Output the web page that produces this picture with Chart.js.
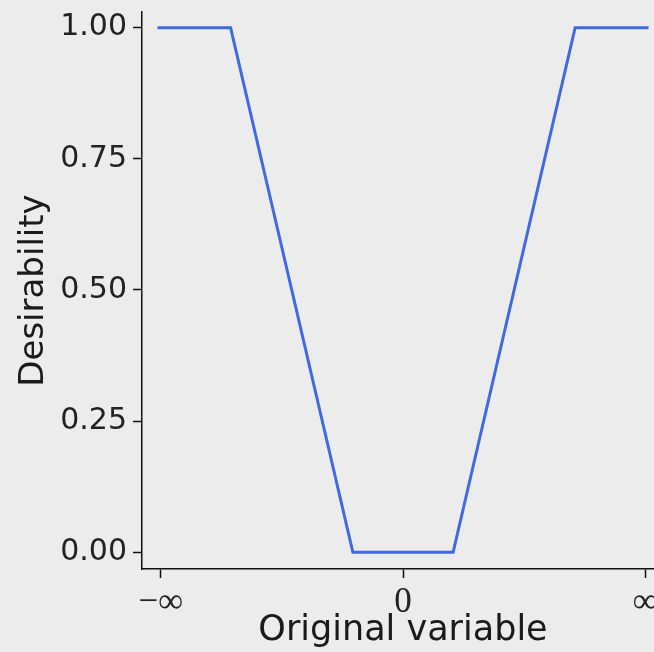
<!DOCTYPE html>
<html lang="en">
  <head>
    <script src="https://cdn.jsdelivr.net/npm/chart.js"></script>
    <style>
      body { margin: 0; background: #ececec; }
      #wrap { width: 654px; height: 652px; overflow: hidden; }
    </style>
  </head>
  <body>
    <div id="wrap"><canvas id="chart" width="680" height="652"></canvas></div>
    <script type="text/javascript">
      // desirability curve, x is on a symbolic -inf..inf axis
      const xValues = [-1.014, -0.712, -0.207, 0.207, 0.711, 1.014];
      const yValues = [1.0, 1.0, 0.0, 0.0, 1.0, 1.0];
      const xTickValues = [-1, 0, 1];
      const xTickLabels = ['\u2212\u221e', '0', '\u221e'];
      const yTickValues = [0, 0.25, 0.5, 0.75, 1.0];

      const points = xValues.map((x, i) => ({ x: x, y: yValues[i] }));

      new Chart(document.getElementById('chart'), {
        type: 'line',
        data: {
          datasets: [
            {
              data: points,
              borderColor: '#4169e1',
              borderWidth: 3,
              pointRadius: 0,
              tension: 0,
            },
          ],
        },
        options: {
          responsive: false,
          animation: false,
          layout: { padding: { top: 12, right: 16, left: 0, bottom: 0 } },
          plugins: { legend: { display: false }, tooltip: { enabled: false } },
          scales: {
            x: {
              type: 'linear',
              min: -1.078,
              max: 1.078,
              afterFit: (s) => {
                s.height = 83;
                s.paddingLeft = 0;
                s.paddingRight = 0;
              },
              afterBuildTicks: (s) => { s.ticks = xTickValues.map((v) => ({ value: v })); },
              border: { display: true, color: '#111', width: 1.5 },
              grid: { drawOnChartArea: false, tickLength: 9, color: '#111', tickWidth: 1.5 },
              ticks: {
                color: '#222',
                padding: 4,
                maxRotation: 0,
                font: { family: 'Liberation Serif', size: 35 },
                callback: (v) => xTickLabels[xTickValues.indexOf(v)],
              },
              title: {
                display: true,
                text: 'Original variable',
                color: '#1a1a1a',
                font: { family: 'DejaVu Sans', size: 35 },
                padding: { top: 0, bottom: 0 },
              },
            },
            y: {
              min: -0.0319,
              max: 1.0298,
              afterFit: (s) => {
                s.width = 142;
                s.paddingTop = 0;
                s.paddingBottom = 0;
              },
              afterBuildTicks: (s) => { s.ticks = yTickValues.map((v) => ({ value: v })); },
              border: { display: true, color: '#111', width: 1.5 },
              grid: { drawOnChartArea: false, tickLength: 9, color: '#111', tickWidth: 1.5 },
              ticks: {
                color: '#222',
                padding: 6,
                font: { family: 'DejaVu Sans', size: 30 },
                callback: (v) => v.toFixed(2),
              },
              title: {
                display: true,
                text: 'Desirability',
                color: '#1a1a1a',
                font: { family: 'DejaVu Sans', size: 34 },
                padding: { top: 14, bottom: 0 },
              },
            },
          },
        },
      });
    </script>
  </body>
</html>
